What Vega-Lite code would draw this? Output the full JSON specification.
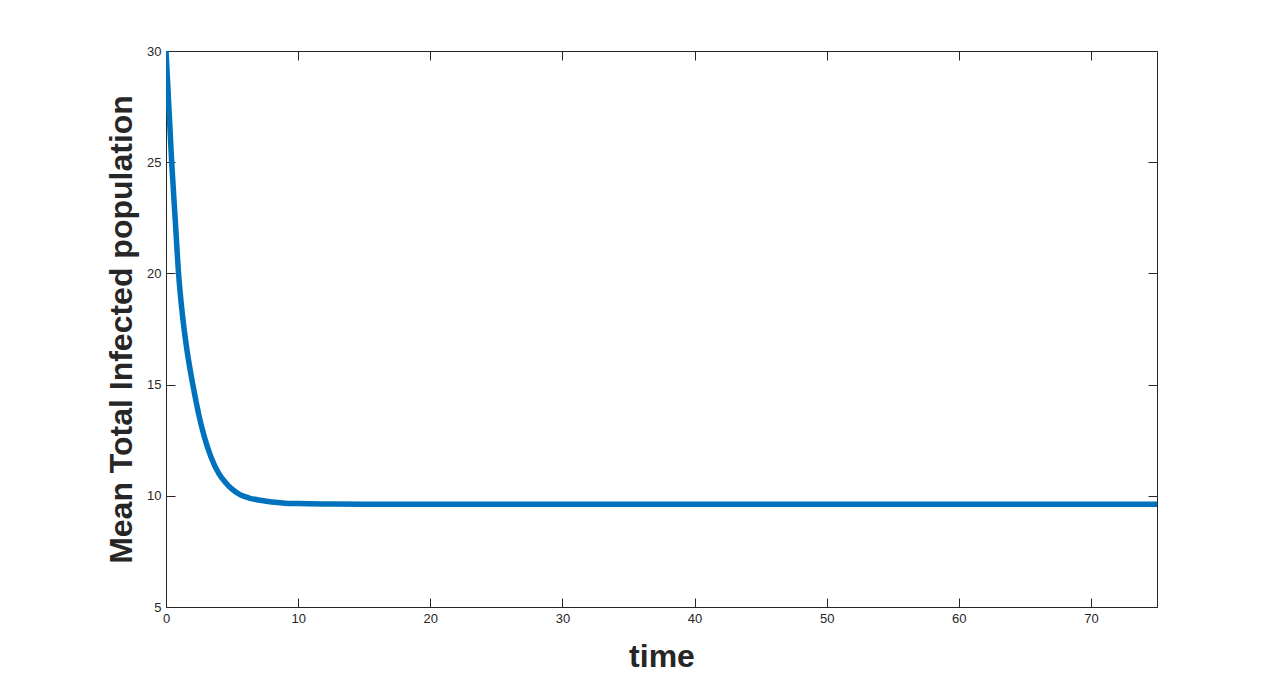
{
  "$schema": "https://vega.github.io/schema/vega-lite/v6.json",
  "width": 991,
  "height": 556,
  "autosize": "none",
  "padding": {"left": 166, "top": 51, "right": 123, "bottom": 76},
  "background": "white",
  "config": {
    "view": {"stroke": null},
    "axis": {
      "grid": false,
      "domainColor": "#262626",
      "domainWidth": 1,
      "tickColor": "#262626",
      "tickWidth": 1,
      "tickSize": -9,
      "labelFlush": false,
      "labelFont": "Liberation Sans",
      "labelFontSize": 13,
      "labelColor": "#262626",
      "titleFont": "Liberation Sans",
      "titleFontWeight": "bold",
      "titleFontSize": 32,
      "titleColor": "#262626"
    }
  },
  "data": {
    "values": [
      {"t": 0, "v": 30},
      {"t": 0.2, "v": 27.7},
      {"t": 0.43, "v": 25},
      {"t": 0.7, "v": 22.4},
      {"t": 0.95, "v": 20},
      {"t": 1.25, "v": 18.1},
      {"t": 1.6, "v": 16.5},
      {"t": 2.03, "v": 15},
      {"t": 2.5, "v": 13.6},
      {"t": 2.9, "v": 12.65},
      {"t": 3.4, "v": 11.75},
      {"t": 4.0, "v": 11.0},
      {"t": 4.5, "v": 10.6},
      {"t": 5.0, "v": 10.3},
      {"t": 5.6, "v": 10.05},
      {"t": 6.3, "v": 9.9},
      {"t": 7.0, "v": 9.81},
      {"t": 8.0, "v": 9.72},
      {"t": 9.0, "v": 9.67},
      {"t": 10.0, "v": 9.65},
      {"t": 12.0, "v": 9.63},
      {"t": 15.0, "v": 9.62},
      {"t": 20.0, "v": 9.62},
      {"t": 30.0, "v": 9.62},
      {"t": 40.0, "v": 9.62},
      {"t": 50.0, "v": 9.62},
      {"t": 60.0, "v": 9.62},
      {"t": 75.0, "v": 9.62}
    ]
  },
  "layer": [
    {
      "mark": {"type": "line", "color": "#0072BD", "strokeWidth": 5.5, "clip": true, "interpolate": "monotone"},
      "encoding": {
        "x": {"field": "t", "type": "quantitative", "scale": {"domain": [0, 75], "nice": false, "zero": false},
              "axis": {"orient": "bottom", "title": "time", "values": [0, 10, 20, 30, 40, 50, 60, 70], "labelPadding": 14, "titlePadding": 16}},
        "y": {"field": "v", "type": "quantitative", "scale": {"domain": [5, 30], "nice": false, "zero": false},
              "axis": {"orient": "left", "title": "Mean Total Infected population", "values": [5, 10, 15, 20, 25, 30], "labelPadding": 14, "titlePadding": 8}}
      }
    },
    {
      "mark": {"type": "line", "opacity": 0},
      "encoding": {
        "x": {"field": "t", "type": "quantitative", "scale": {"domain": [0, 75], "nice": false, "zero": false},
              "axis": {"orient": "top", "title": null, "labels": false, "values": [0, 10, 20, 30, 40, 50, 60, 70]}},
        "y": {"field": "v", "type": "quantitative", "scale": {"domain": [5, 30], "nice": false, "zero": false},
              "axis": {"orient": "right", "title": null, "labels": false, "values": [5, 10, 15, 20, 25, 30]}}
      }
    }
  ],
  "resolve": {"axis": {"x": "independent", "y": "independent"}}
}
